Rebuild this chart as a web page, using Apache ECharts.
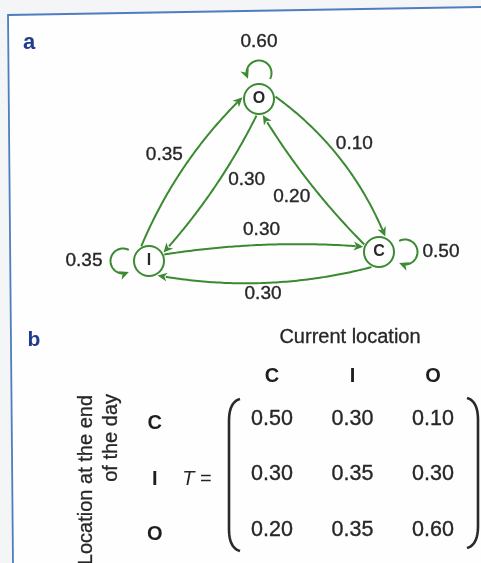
<!DOCTYPE html>
<html><head><meta charset="utf-8">
<script src="https://cdn.jsdelivr.net/npm/echarts@6.0.0/dist/echarts.min.js"></script>
<style>html,body{margin:0;padding:0;background:#f3f5f7}#c{width:481px;height:563px}</style>
</head><body><div id="c"></div>
<script>
// ---- data ----
const nodeNames = ['O', 'I', 'C'];
const nodeX = [259, 149, 379];
const nodeY = [99, 261, 252];
const edgeSource = ['I', 'O', 'O', 'C', 'I', 'C'];
const edgeTarget = ['O', 'I', 'C', 'O', 'C', 'I'];
const edgeValue = [0.35, 0.30, 0.10, 0.20, 0.30, 0.30];
const loopNode = ['O', 'C', 'I'];
const loopValue = [0.60, 0.50, 0.35];
const matrixCols = ['C', 'I', 'O'];
const matrixRows = ['C', 'I', 'O'];
const matrixValues = [
  [0.50, 0.30, 0.10],
  [0.30, 0.35, 0.30],
  [0.20, 0.35, 0.60]
];
// ---- styles ----
const edgeCurveness = [0.11, 0.08, 0.155, 0.07, 0.067, 0.117];
const edgeShift = [13, 5, 12, 5, 4, 13];
const edgeLabelOffset = [[-20, -12], [32, -7], [14, -15], [-18, 14], [-2, -15], [-2, 11]];
const loopDir = [-90, 0, 180];
const loopSense = [1, -1, 1];
const loopLabelDist = [31, 36, 39];

const FONT = "'Liberation Sans', Arial, sans-serif";
const GREEN = '#3b8a32';
const TXT = '#262626';
const BLUE = '#1f3d8c';
const NODE_R = 16.5;
const ARROW_LEN = 9.5, ARROW_HW = 4.5;

function nodeIdx(n) { return nodeNames.indexOf(n); }
function dist(p, q) { return Math.hypot(p[0] - q[0], p[1] - q[1]); }
function arrowHead(tip, from) {
  const dx = tip[0] - from[0], dy = tip[1] - from[1], l = Math.hypot(dx, dy) || 1;
  const ux = dx / l, uy = dy / l;
  const bx = tip[0] - ux * ARROW_LEN, by = tip[1] - uy * ARROW_LEN;
  return [[tip[0], tip[1]], [bx - uy * ARROW_HW, by + ux * ARROW_HW],
          [tip[0] - ux * ARROW_LEN * 0.72, tip[1] - uy * ARROW_LEN * 0.72],
          [bx + uy * ARROW_HW, by - ux * ARROW_HW]];
}
function numText(x, y, v, size) {
  return { type: 'text', x: x, y: y, z2: 10,
    style: { text: v.toFixed(2), fill: TXT, fontSize: size || 19, fontFamily: FONT, align: 'center', verticalAlign: 'middle',
      stroke: TXT, lineWidth: 0.35 } };
}

function renderEdge(params, api) {
  const i = params.dataIndex;
  const s = nodeIdx(edgeSource[i]), t = nodeIdx(edgeTarget[i]);
  const a = api.coord([nodeX[s], nodeY[s]]), b = api.coord([nodeX[t], nodeY[t]]);
  const dx = b[0] - a[0], dy = b[1] - a[1], L = Math.hypot(dx, dy);
  const n = [dy / L, -dx / L];
  const sh = edgeShift[i], c = edgeCurveness[i];
  const p0 = [a[0] + n[0] * sh, a[1] + n[1] * sh], p1 = [b[0] + n[0] * sh, b[1] + n[1] * sh];
  const cp = [(p0[0] + p1[0]) / 2 + n[0] * c * L, (p0[1] + p1[1]) / 2 + n[1] * c * L];
  const bez = function (tt) {
    const u = 1 - tt;
    return [u * u * p0[0] + 2 * u * tt * cp[0] + tt * tt * p1[0], u * u * p0[1] + 2 * u * tt * cp[1] + tt * tt * p1[1]];
  };
  const N = 400;
  let t0 = 0, t1 = 1;
  for (let k = 0; k <= N; k++) { if (dist(bez(k / N), a) >= NODE_R) { t0 = k / N; break; } }
  for (let k = N; k >= 0; k--) { if (dist(bez(k / N), b) >= NODE_R) { t1 = k / N; break; } }
  const tip = bez(t1);
  const pts = [];
  for (let k = 0; k <= 80; k++) {
    const q = bez(t0 + (t1 - t0) * k / 80);
    if (dist(q, tip) < ARROW_LEN * 0.7) break;
    pts.push(q);
  }
  const mid = bez(0.5);
  const off = edgeLabelOffset[i];
  return { type: 'group', children: [
    { type: 'polyline', shape: { points: pts }, style: { stroke: GREEN, lineWidth: 2, fill: null } },
    { type: 'polygon', shape: { points: arrowHead(tip, bez(t1 - 0.04)) }, style: { fill: GREEN } },
    numText(mid[0] + off[0], mid[1] + off[1], api.value(1))
  ] };
}

function renderLoop(params, api) {
  const i = params.dataIndex;
  const s = nodeIdx(loopNode[i]);
  const a = api.coord([nodeX[s], nodeY[s]]);
  const d = loopDir[i] * Math.PI / 180;
  const u = [Math.cos(d), Math.sin(d)];
  const lc = [a[0] + u[0] * 26, a[1] + u[1] * 26];
  const R = 12.5, span = 118 * Math.PI / 180;
  const st = d + loopSense[i] * span, en = d - loopSense[i] * span;
  const P = function (th) { return [lc[0] + R * Math.cos(th), lc[1] + R * Math.sin(th)]; };
  const tip = P(en);
  const pts = [];
  for (let k = 0; k <= 60; k++) {
    const q = P(st + (en - st) * k / 60);
    if (k > 30 && dist(q, tip) < ARROW_LEN * 0.7) break;
    pts.push(q);
  }
  const lab = [lc[0] + u[0] * loopLabelDist[i], lc[1] + u[1] * loopLabelDist[i]];
  return { type: 'group', children: [
    { type: 'polyline', shape: { points: pts }, style: { stroke: GREEN, lineWidth: 2, fill: null } },
    { type: 'polygon', shape: { points: arrowHead(tip, P(en - (en - st) * 0.06)) }, style: { fill: GREEN } },
    numText(lab[0], lab[1], api.value(1))
  ] };
}

function renderCell(params, api) {
  const p = api.coord([api.value(0), api.value(1)]);
  return numText(p[0], p[1], api.value(2), 21.5);
}

// paren helper
function paren(xEnd, xMid, yTop, yBot) {
  const pts = [];
  const q = function (p0, c, p1) {
    for (let k = 0; k <= 12; k++) {
      const t = k / 12, u = 1 - t;
      pts.push([u * u * p0[0] + 2 * u * t * c[0] + t * t * p1[0], u * u * p0[1] + 2 * u * t * c[1] + t * t * p1[1]]);
    }
  };
  q([xEnd, yTop], [xMid, yTop + 3], [xMid, yTop + 22]);
  q([xMid, yBot - 22], [xMid, yBot - 3], [xEnd, yBot]);
  return pts;
}

const matrixData = [];
matrixRows.forEach(function (r, ri) {
  matrixCols.forEach(function (cName, ci) { matrixData.push([ci, ri, matrixValues[ri][ci]]); });
});

const chart = echarts.init(document.getElementById('c'));
chart.setOption({
  animation: false,
  backgroundColor: 'transparent',
  grid: [
    { left: 0, top: 0, width: 481, height: 563 },
    { left: 231.75, top: 391.25, width: 241.5, height: 166.5 }
  ],
  xAxis: [
    { gridIndex: 0, type: 'value', min: 0, max: 481, show: false },
    { gridIndex: 1, type: 'category', data: matrixCols, position: 'top',
      axisLine: { show: false }, axisTick: { show: false }, splitLine: { show: false },
      axisLabel: { margin: 5, fontSize: 20, fontWeight: 'bold', color: '#1e1e1e', fontFamily: FONT } }
  ],
  yAxis: [
    { gridIndex: 0, type: 'value', min: 0, max: 563, inverse: true, show: false },
    { gridIndex: 1, type: 'category', data: matrixRows, inverse: true,
      axisLine: { show: false }, axisTick: { show: false }, splitLine: { show: false },
      axisLabel: { margin: 77, align: 'center', verticalAlign: 'top', lineHeight: 9, fontSize: 20, fontWeight: 'bold', color: '#1e1e1e', fontFamily: FONT } }
  ],
  graphic: [
    { type: 'polygon', z: -10, shape: { points: [[8, 15], [481, 7], [481, 563], [13, 563]] }, style: { fill: '#fefefe' } },
    { type: 'polyline', z: -9, shape: { points: [[481, 7], [8, 15], [13, 563]] }, style: { stroke: '#4f7dbf', lineWidth: 1.8, fill: null } },
    { type: 'text', x: 29, y: 43, style: { text: 'a', fill: BLUE, fontSize: 22, fontWeight: 'bold', fontFamily: FONT, align: 'center', verticalAlign: 'middle' } },
    { type: 'text', x: 34, y: 340, style: { text: 'b', fill: BLUE, fontSize: 21, fontWeight: 'bold', fontFamily: FONT, align: 'center', verticalAlign: 'middle' } },
    { type: 'text', x: 350, y: 337, style: { text: 'Current location', fill: TXT, fontSize: 20, fontFamily: FONT, align: 'center', verticalAlign: 'middle', stroke: TXT, lineWidth: 0.3 } },
    { type: 'text', x: 86, y: 395, rotation: Math.PI / 2, style: { text: 'Location at the end', fill: TXT, fontSize: 20, fontFamily: FONT, align: 'right', verticalAlign: 'middle', stroke: TXT, lineWidth: 0.3 } },
    { type: 'text', x: 111, y: 394, rotation: Math.PI / 2, style: { text: 'of the day', fill: TXT, fontSize: 20, fontFamily: FONT, align: 'right', verticalAlign: 'middle', stroke: TXT, lineWidth: 0.3 } },
    { type: 'text', x: 197, y: 479, style: { text: '{i|T} =', fill: TXT, fontSize: 20, fontFamily: FONT, align: 'center', verticalAlign: 'middle',
        rich: { i: { fontStyle: 'italic', fontSize: 20, fontFamily: FONT, fill: TXT } } } },
    { type: 'polyline', shape: { points: paren(240, 229, 399, 551) }, style: { stroke: '#2a2a2a', lineWidth: 2.6, fill: null } },
    { type: 'polyline', shape: { points: paren(467, 478, 398, 548) }, style: { stroke: '#2a2a2a', lineWidth: 2.6, fill: null } }
  ],
  series: [
    { type: 'custom', xAxisIndex: 0, yAxisIndex: 0, z: 2, renderItem: renderEdge,
      data: edgeValue.map(function (v, i) { return [i, v]; }) },
    { type: 'custom', xAxisIndex: 0, yAxisIndex: 0, z: 2, renderItem: renderLoop,
      data: loopValue.map(function (v, i) { return [i, v]; }) },
    { type: 'scatter', xAxisIndex: 0, yAxisIndex: 0, z: 5, symbol: 'circle', symbolSize: 30,
      itemStyle: { color: '#ffffff', borderColor: GREEN, borderWidth: 2, opacity: 1 },
      label: { show: true, position: 'inside', formatter: function (p) { return p.value[2]; },
        color: '#2a2a2a', fontSize: 16, fontWeight: 'bold', fontFamily: FONT },
      data: nodeNames.map(function (nm, i) { return [nodeX[i], nodeY[i], nm]; }) },
    { type: 'custom', xAxisIndex: 1, yAxisIndex: 1, renderItem: renderCell, data: matrixData }
  ]
});
</script></body></html>
